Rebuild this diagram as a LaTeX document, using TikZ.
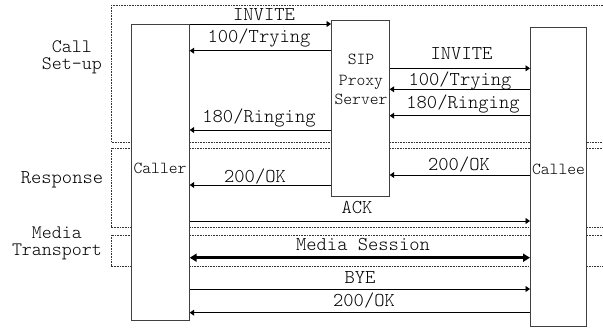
\documentclass[tikz,border=0pt]{standalone}
\usepackage{fontspec}
\setmonofont{Latin Modern Mono Light}
\usetikzlibrary{arrows.meta}
\begin{document}
\begin{tikzpicture}[x=1pt,y=-1pt,
  lifebox/.style={draw=black!75, line width=0.9pt, inner sep=0pt, outer sep=0pt, fill=white},
  phase/.style={draw=black!80, line width=0.7pt, dash pattern=on 0.8pt off 0.8pt},
  msg/.style={draw=black, line width=0.8pt, -{Triangle[length=4.5pt,width=6pt]}},
  media/.style={draw=black, line width=2.8pt, {Triangle[length=7pt,width=8pt]}-{Triangle[length=7pt,width=8pt]}},
  lbl/.style={font=\ttfamily\fontsize{19.6}{16}\selectfont, inner sep=0pt, anchor=base},
  boxlbl/.style={font=\ttfamily\fontsize{16.8}{20}\selectfont, inner sep=0pt, anchor=base},
  phaselbl/.style={font=\ttfamily\fontsize{19}{17}\selectfont, inner sep=0pt, align=center}]
\clip (0,0) rectangle (603,329);

% phase frames (open to the right)
\draw[phase] (111,5) rectangle (640,142);
\draw[phase] (111,148) rectangle (640,227);
\draw[phase] (111,235) rectangle (640,266);

% phase names
\node[phaselbl, anchor=base east] (pcall) at (102,69.3) {Call\\Set-up};
\node[lbl] (presp) at (62,183.3) {Response};
\node[phaselbl, anchor=base east] (pmedia) at (102,255) {Media\\Transport};

% participants
\node[lifebox, minimum width=58pt, minimum height=296pt] (caller) at (160.7,172) {};
\node[lifebox, minimum width=58.7pt, minimum height=176.7pt] (proxy) at (360.35,108.35) {};
\node[lifebox, minimum width=56pt, minimum height=299.7pt] (callee) at (558,176.85) {};

\node[boxlbl] (tcaller) at (160,173.3) {Caller};
\node[boxlbl] (tsip) at (361,65) {SIP};
\node[boxlbl] (tproxy) at (361,85) {Proxy};
\node[boxlbl] (tserver) at (361,105) {Server};
\node[boxlbl] (tcallee) at (558.5,175) {Callee};

% caller <-> proxy
\draw[msg] (caller.east|-0,24) -- (proxy.west|-0,24);
\node[lbl] (m1) at (264,20.7) {INVITE};
\draw[msg] (proxy.west|-0,50.7) -- (caller.east|-0,50.7);
\node[lbl] (m2) at (259,42.5) {100/Trying};
\draw[msg] (proxy.west|-0,130) -- (caller.east|-0,130);
\node[lbl] (m3) at (259,122.7) {180/Ringing};

% proxy <-> callee
\draw[msg] (proxy.east|-0,68.3) -- (callee.west|-0,68.3);
\node[lbl] (m4) at (461.5,60) {INVITE};
\draw[msg] (callee.west|-0,89.3) -- (proxy.east|-0,89.3);
\node[lbl] (m5) at (460,86) {100/Trying};
\draw[msg] (callee.west|-0,115.7) -- (proxy.east|-0,115.7);
\node[lbl] (m6) at (463,108.3) {180/Ringing};

% response
\draw[msg] (callee.west|-0,175) -- (proxy.east|-0,175);
\node[lbl] (m7) at (459,170) {200/OK};
\draw[msg] (proxy.west|-0,185) -- (caller.east|-0,185);
\node[lbl] (m8) at (255,182.7) {200/OK};
\draw[msg] (caller.east|-0,221) -- (callee.west|-0,221);
\node[lbl] (m9) at (357,213.3) {ACK};

% media
\draw[media] (caller.east|-0,257.7) -- (callee.west|-0,257.7);
\node[lbl] (m10) at (363,250) {Media Session};

% teardown
\draw[msg] (caller.east|-0,289) -- (callee.west|-0,289);
\node[lbl] (m11) at (360,283.3) {BYE};
\draw[msg] (callee.west|-0,312.7) -- (caller.east|-0,312.7);
\node[lbl] (m12) at (364,306.7) {200/OK};
\end{tikzpicture}
\end{document}
